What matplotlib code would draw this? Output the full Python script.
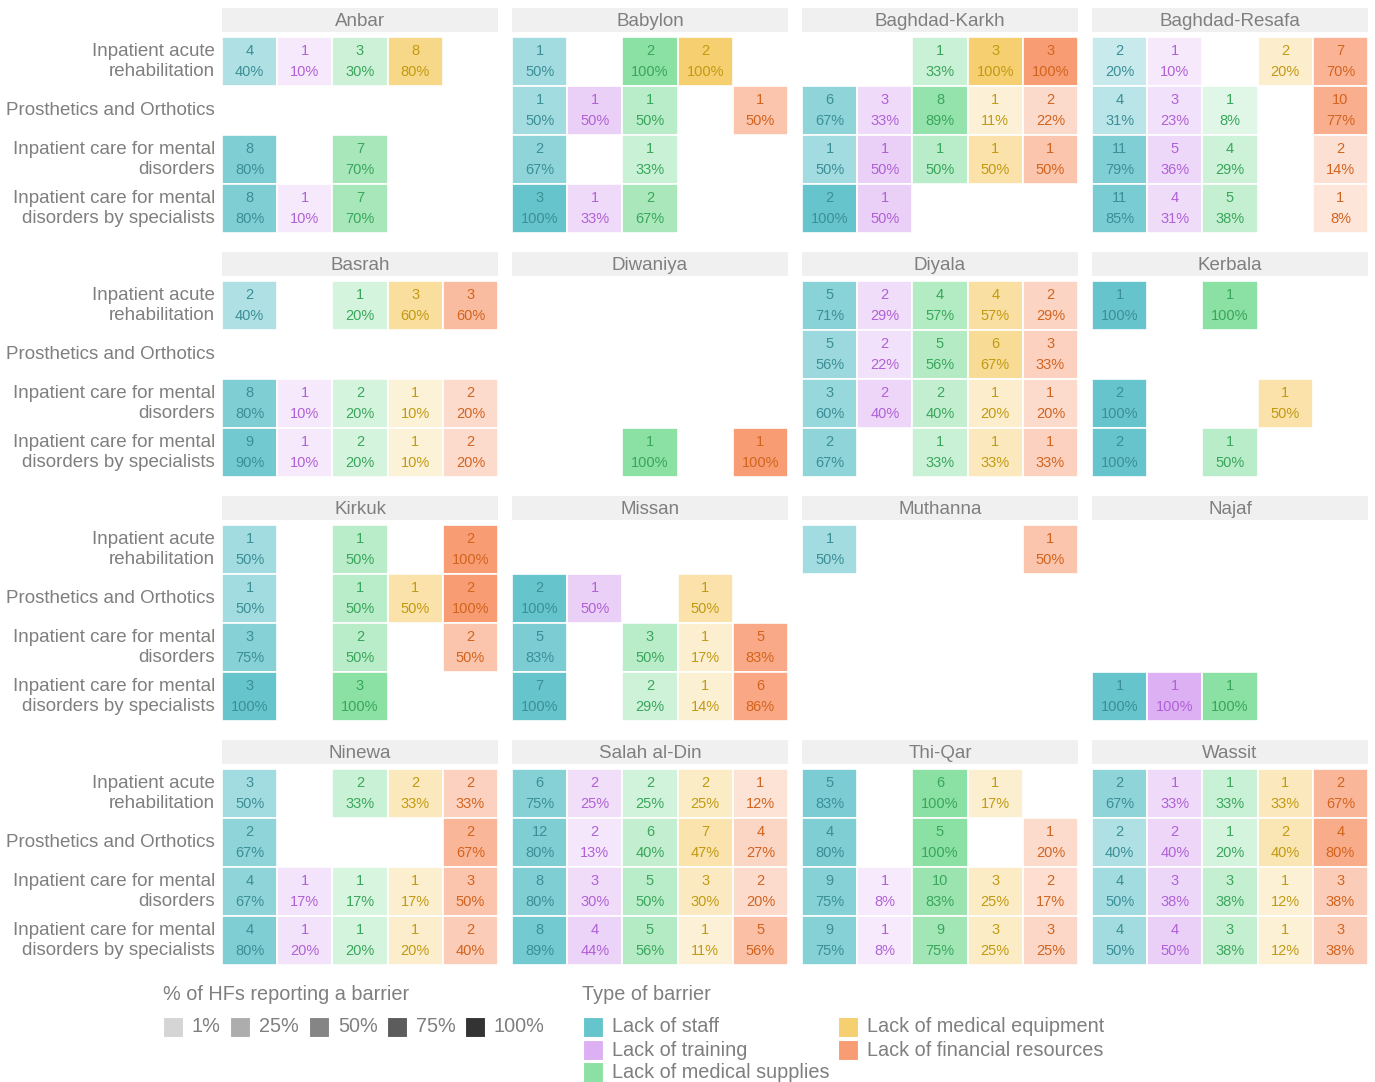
import matplotlib.pyplot as plt
from matplotlib.patches import Rectangle
import matplotlib.colors as mcolors

plt.rcParams['font.family'] = ['Liberation Sans', 'DejaVu Sans']

# services (rows) and barrier types (columns)
services = ['Inpatient acute\nrehabilitation', 'Prosthetics and Orthotics',
            'Inpatient care for mental\ndisorders', 'Inpatient care for mental\ndisorders by specialists']
barriers = ['Lack of staff', 'Lack of training', 'Lack of medical supplies',
            'Lack of medical equipment', 'Lack of financial resources']
fill_colors = ['#66C5CC', '#DCB0F2', '#8BE0A4', '#F6CF71', '#F89C74']
text_colors = ['#3b8f96', '#b061d6', '#3aa65c', '#c29a12', '#d2641e']

governorates = ['Anbar', 'Babylon', 'Baghdad-Karkh', 'Baghdad-Resafa',
                'Basrah', 'Diwaniya', 'Diyala', 'Kerbala',
                'Kirkuk', 'Missan', 'Muthanna', 'Najaf',
                'Ninewa', 'Salah al-Din', 'Thi-Qar', 'Wassit']

N = None
E = [N, N, N, N, N]

# number of HFs reporting each barrier / % of HFs
anbar_n = [[4, 1, 3, 8, N], E, [8, N, 7, N, N], [8, 1, 7, N, N]]
anbar_p = [[40, 10, 30, 80, N], E, [80, N, 70, N, N], [80, 10, 70, N, N]]
babylon_n = [[1, N, 2, 2, N], [1, 1, 1, N, 1], [2, N, 1, N, N], [3, 1, 2, N, N]]
babylon_p = [[50, N, 100, 100, N], [50, 50, 50, N, 50], [67, N, 33, N, N], [100, 33, 67, N, N]]
karkh_n = [[N, N, 1, 3, 3], [6, 3, 8, 1, 2], [1, 1, 1, 1, 1], [2, 1, N, N, N]]
karkh_p = [[N, N, 33, 100, 100], [67, 33, 89, 11, 22], [50, 50, 50, 50, 50], [100, 50, N, N, N]]
resafa_n = [[2, 1, N, 2, 7], [4, 3, 1, N, 10], [11, 5, 4, N, 2], [11, 4, 5, N, 1]]
resafa_p = [[20, 10, N, 20, 70], [31, 23, 8, N, 77], [79, 36, 29, N, 14], [85, 31, 38, N, 8]]
basrah_n = [[2, N, 1, 3, 3], E, [8, 1, 2, 1, 2], [9, 1, 2, 1, 2]]
basrah_p = [[40, N, 20, 60, 60], E, [80, 10, 20, 10, 20], [90, 10, 20, 10, 20]]
diwaniya_n = [E, E, E, [N, N, 1, N, 1]]
diwaniya_p = [E, E, E, [N, N, 100, N, 100]]
diyala_n = [[5, 2, 4, 4, 2], [5, 2, 5, 6, 3], [3, 2, 2, 1, 1], [2, N, 1, 1, 1]]
diyala_p = [[71, 29, 57, 57, 29], [56, 22, 56, 67, 33], [60, 40, 40, 20, 20], [67, N, 33, 33, 33]]
kerbala_n = [[1, N, 1, N, N], E, [2, N, N, 1, N], [2, N, 1, N, N]]
kerbala_p = [[100, N, 100, N, N], E, [100, N, N, 50, N], [100, N, 50, N, N]]
kirkuk_n = [[1, N, 1, N, 2], [1, N, 1, 1, 2], [3, N, 2, N, 2], [3, N, 3, N, N]]
kirkuk_p = [[50, N, 50, N, 100], [50, N, 50, 50, 100], [75, N, 50, N, 50], [100, N, 100, N, N]]
missan_n = [E, [2, 1, N, 1, N], [5, N, 3, 1, 5], [7, N, 2, 1, 6]]
missan_p = [E, [100, 50, N, 50, N], [83, N, 50, 17, 83], [100, N, 29, 14, 86]]
muthanna_n = [[1, N, N, N, 1], E, E, E]
muthanna_p = [[50, N, N, N, 50], E, E, E]
najaf_n = [E, E, E, [1, 1, 1, N, N]]
najaf_p = [E, E, E, [100, 100, 100, N, N]]
ninewa_n = [[3, N, 2, 2, 2], [2, N, N, N, 2], [4, 1, 1, 1, 3], [4, 1, 1, 1, 2]]
ninewa_p = [[50, N, 33, 33, 33], [67, N, N, N, 67], [67, 17, 17, 17, 50], [80, 20, 20, 20, 40]]
salah_n = [[6, 2, 2, 2, 1], [12, 2, 6, 7, 4], [8, 3, 5, 3, 2], [8, 4, 5, 1, 5]]
salah_p = [[75, 25, 25, 25, 12], [80, 13, 40, 47, 27], [80, 30, 50, 30, 20], [89, 44, 56, 11, 56]]
thiqar_n = [[5, N, 6, 1, N], [4, N, 5, N, 1], [9, 1, 10, 3, 2], [9, 1, 9, 3, 3]]
thiqar_p = [[83, N, 100, 17, N], [80, N, 100, N, 20], [75, 8, 83, 25, 17], [75, 8, 75, 25, 25]]
wassit_n = [[2, 1, 1, 1, 2], [2, 2, 1, 2, 4], [4, 3, 3, 1, 3], [4, 4, 3, 1, 3]]
wassit_p = [[67, 33, 33, 33, 67], [40, 40, 20, 40, 80], [50, 38, 38, 12, 38], [50, 50, 38, 12, 38]]

counts = [anbar_n, babylon_n, karkh_n, resafa_n, basrah_n, diwaniya_n, diyala_n, kerbala_n,
          kirkuk_n, missan_n, muthanna_n, najaf_n, ninewa_n, salah_n, thiqar_n, wassit_n]
pcts = [anbar_p, babylon_p, karkh_p, resafa_p, basrah_p, diwaniya_p, diyala_p, kerbala_p,
        kirkuk_p, missan_p, muthanna_p, najaf_p, ninewa_p, salah_p, thiqar_p, wassit_p]

legend_levels = [1, 25, 50, 75, 100]

W, H = 1375, 1082
grey = '#7f7f7f'


def shade(color, p):
    # blend colour with white, opacity grows with the percentage
    a = 0.2 + 0.8 * p / 100
    rgb = mcolors.to_rgb(color)
    return tuple(a * v + (1 - a) for v in rgb)


fig = plt.figure(figsize=(W / 100, H / 100), dpi=100)


def px_axes(x, y, w, h):
    return fig.add_axes([x / W, 1 - (y + h) / H, w / W, h / H])


for i, gov in enumerate(governorates):
    col, row = i % 4, i // 4
    x0 = 222 + col * 290
    top = 8 + row * 244

    strip = px_axes(x0, top, 276, 24)
    strip.set_facecolor('#f0f0f0')
    strip.set_xticks([])
    strip.set_yticks([])
    for s in strip.spines.values():
        s.set_visible(False)
    strip.text(0.5, 0.45, gov, ha='center', va='center', color=grey, fontsize=13.5,
               transform=strip.transAxes)

    ax = px_axes(x0, top + 29, 276, 196)
    ax.set_xlim(0, 5)
    ax.set_ylim(4, 0)
    ax.axis('off')
    for r in range(4):
        for c in range(5):
            n = counts[i][r][c]
            if n is None:
                continue
            p = pcts[i][r][c]
            ax.add_patch(Rectangle((c, r), 1, 1, facecolor=shade(fill_colors[c], p),
                                   edgecolor='white', lw=1.2))
            ax.text(c + 0.5, r + 0.28, str(n), ha='center', va='center',
                    color=text_colors[c], fontsize=10.5)
            ax.text(c + 0.5, r + 0.71, f'{p}%', ha='center', va='center',
                    color=text_colors[c], fontsize=10.5)

    if col == 0:
        for r, lab in enumerate(services):
            yc = top + 29 + 49 * r + 24.5
            fig.text(215 / W, 1 - yc / H, lab, ha='right', va='center', color=grey,
                     fontsize=13.5, linespacing=1.3, multialignment='right')

# legends drawn on a full-figure overlay in pixel units
leg = fig.add_axes([0, 0, 1, 1])
leg.set_xlim(0, W)
leg.set_ylim(H, 0)
leg.axis('off')

leg.text(163, 995, '% of HFs reporting a barrier', ha='left', va='center', color=grey, fontsize=14.3)
sx = [163, 230, 309, 387, 465]
for x, lv in zip(sx, legend_levels):
    leg.add_patch(Rectangle((x, 1017), 20, 20, facecolor=shade('#333333', lv), edgecolor='white', lw=0.8))
    leg.text(x + 29, 1027, f'{lv}%', ha='left', va='center', color=grey, fontsize=14.3)

leg.text(582, 995, 'Type of barrier', ha='left', va='center', color=grey, fontsize=14.3)
type_pos = [(583, 1027), (583, 1050), (583, 1072), (838, 1027), (838, 1050)]
for (x, y), lab, colr in zip(type_pos, barriers, fill_colors):
    leg.add_patch(Rectangle((x, y - 10), 20, 20, facecolor=colr, edgecolor='white', lw=0.8))
    leg.text(x + 29, y, lab, ha='left', va='center', color=grey, fontsize=14.3)

fig.savefig('out.png', dpi=100)
